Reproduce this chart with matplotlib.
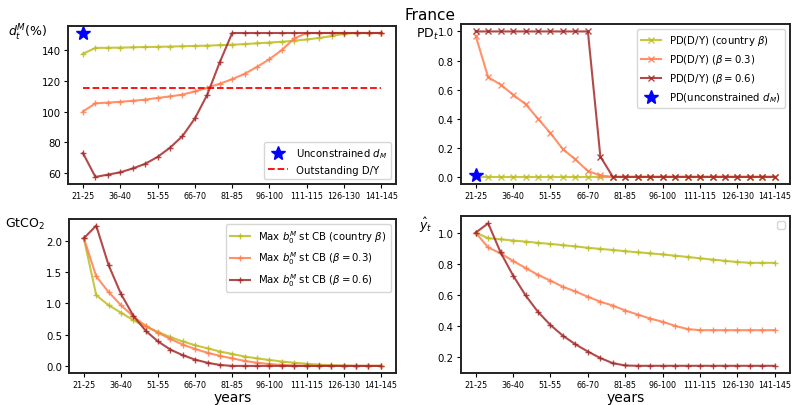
import matplotlib
matplotlib.use("Agg")
import matplotlib.pyplot as plt
import numpy as np

# periods (years since 2000)
periods = ['21-25', '26-30', '31-35', '36-40', '41-45', '46-50', '51-55', '56-60',
           '61-65', '66-70', '71-75', '76-80', '81-85', '86-90', '91-95', '96-100',
           '101-105', '106-110', '111-115', '116-120', '121-125', '126-130',
           '131-135', '136-140', '141-145']

# debt ceiling d_t^M (%)
dm_country = [137.5, 141.3, 141.4, 141.5, 141.7, 141.9, 142.0, 142.2, 142.4, 142.6,
              142.8, 143.1, 143.4, 143.8, 144.3, 144.8, 145.3, 146.0, 146.8, 147.8,
              149.0, 150.5, 151.0, 151.0, 151.0]
dm_b03 = [100.0, 105.3, 105.8, 106.3, 107.0, 107.7, 108.8, 109.8, 111.0, 113.0,
          115.5, 118.0, 121.0, 124.5, 129.0, 134.0, 140.0, 147.5, 151.0, 151.0,
          151.0, 151.0, 151.0, 151.0, 151.0]
dm_b06 = [73.0, 57.5, 59.0, 60.5, 63.0, 66.0, 70.5, 76.5, 84.0, 95.5,
          111.0, 132.0, 151.0, 151.0, 151.0, 151.0, 151.0, 151.0, 151.0, 151.0,
          151.0, 151.0, 151.0, 151.0, 151.0]
dm_unconstrained = 151.0
outstanding_dy = 115.5

# default probability
pd_country = [0.0] * 25
pd_b03 = [0.97, 0.685, 0.635, 0.565, 0.5, 0.4, 0.3, 0.19, 0.12, 0.04,
          0.01, 0.0, 0.0, 0.0, 0.0, 0.0, 0.0, 0.0, 0.0, 0.0,
          0.0, 0.0, 0.0, 0.0, 0.0]
pd_b06 = [1.0, 1.0, 1.0, 1.0, 1.0, 1.0, 1.0, 1.0, 1.0, 1.0,
          0.14, 0.0, 0.0, 0.0, 0.0, 0.0, 0.0, 0.0, 0.0, 0.0,
          0.0, 0.0, 0.0, 0.0, 0.0]
pd_unconstrained = 0.01

# max green bonds (GtCO2)
b_country = [2.04, 1.13, 0.97, 0.85, 0.73, 0.63, 0.54, 0.46, 0.39, 0.33,
             0.28, 0.23, 0.19, 0.15, 0.12, 0.095, 0.07, 0.05, 0.035, 0.02,
             0.01, 0.005, 0.0, 0.0, 0.0]
b_b03 = [2.04, 1.43, 1.18, 0.97, 0.79, 0.64, 0.53, 0.43, 0.34, 0.27,
         0.21, 0.16, 0.12, 0.08, 0.05, 0.03, 0.015, 0.005, 0.0, 0.0,
         0.0, 0.0, 0.0, 0.0, 0.0]
b_b06 = [2.04, 2.24, 1.61, 1.15, 0.80, 0.56, 0.39, 0.26, 0.17, 0.10,
         0.05, 0.015, 0.0, 0.0, 0.0, 0.0, 0.0, 0.0, 0.0, 0.0,
         0.0, 0.0, 0.0, 0.0, 0.0]

# output y_hat
y_country = [1.0, 0.964, 0.957, 0.949, 0.942, 0.934, 0.927, 0.919, 0.911, 0.902,
             0.895, 0.888, 0.880, 0.873, 0.866, 0.859, 0.851, 0.843, 0.834, 0.826,
             0.818, 0.810, 0.805, 0.805, 0.805]
y_b03 = [1.0, 0.904, 0.866, 0.817, 0.772, 0.727, 0.69, 0.65, 0.62, 0.586,
         0.554, 0.529, 0.497, 0.471, 0.445, 0.424, 0.398, 0.377, 0.37, 0.37,
         0.37, 0.37, 0.37, 0.37, 0.37]
y_b06 = [1.0, 1.06, 0.872, 0.723, 0.595, 0.488, 0.403, 0.334, 0.279, 0.232,
         0.19, 0.157, 0.142, 0.14, 0.14, 0.14, 0.14, 0.14, 0.14, 0.14,
         0.14, 0.14, 0.14, 0.14, 0.14]

c1, c2, c3 = 'tab:olive', 'coral', 'brown'
x = np.arange(len(periods))

fig = plt.figure(figsize=(7.93, 4.06), dpi=100)
ax1 = fig.add_axes([0.0858, 0.544, 0.414, 0.390])
ax2 = fig.add_axes([0.581, 0.544, 0.415, 0.394])
ax3 = fig.add_axes([0.087, 0.079, 0.412, 0.380])
ax4 = fig.add_axes([0.581, 0.079, 0.415, 0.386])

kw = dict(lw=1.5, alpha=0.85, ms=5, mew=1)
lfs = 7.3

# top left
ax1.plot(x, dm_country, color=c1, marker='+', **kw)
ax1.plot(x, dm_b03, color=c2, marker='+', **kw)
ax1.plot(x, dm_b06, color=c3, marker='+', **kw)
ax1.plot([0], [dm_unconstrained], '*', color='blue', ms=10, label='Unconstrained $d_M$')
ax1.plot([x[0], x[-1]], [outstanding_dy] * 2, '--', color='red', lw=1.3,
         label='Outstanding D/Y')
ax1.set_yticks([60, 80, 100, 120, 140])
ax1.legend(loc='lower right', fontsize=lfs)
ax1.set_ylabel('$d_t^M$(%)', rotation=0, fontsize=9, ha='right', va='center')
ax1.yaxis.set_label_coords(-0.064, 0.962)

# top right
ax2.plot(x, pd_country, color=c1, marker='x', label=r'PD(D/Y) (country $\beta$)', **kw)
ax2.plot(x, pd_b03, color=c2, marker='x', label=r'PD(D/Y) ($\beta=0.3$)', **kw)
ax2.plot(x, pd_b06, color=c3, marker='x', label=r'PD(D/Y) ($\beta=0.6$)', **kw)
ax2.plot([0], [pd_unconstrained], '*', color='blue', ms=10,
         label='PD(unconstrained $d_M$)')
ax2.legend(loc='upper right', fontsize=lfs)
ax2.set_ylabel('PD$_t$', rotation=0, fontsize=9, ha='right', va='center')
ax2.yaxis.set_label_coords(-0.067, 0.944)

# bottom left
ax3.plot(x, b_country, color=c1, marker='+', label=r'Max $b_0^M$ st CB (country $\beta$)', **kw)
ax3.plot(x, b_b03, color=c2, marker='+', label=r'Max $b_0^M$ st CB ($\beta=0.3$)', **kw)
ax3.plot(x, b_b06, color=c3, marker='+', label=r'Max $b_0^M$ st CB ($\beta=0.6$)', **kw)
ax3.set_yticks([0.0, 0.5, 1.0, 1.5, 2.0])
ax3.legend(loc='upper right', fontsize=lfs)
ax3.set_ylabel('GtCO$_2$', rotation=0, fontsize=9, ha='right', va='center')
ax3.yaxis.set_label_coords(-0.073, 0.968)
ax3.set_xlabel('years', fontsize=10, labelpad=1)

# bottom right
ax4.plot(x, y_country, color=c1, marker='+', **kw)
ax4.plot(x, y_b03, color=c2, marker='+', **kw)
ax4.plot(x, y_b06, color=c3, marker='+', **kw)
ax4.set_yticks([0.2, 0.4, 0.6, 0.8, 1.0])
ax4.legend(handles=[], loc='upper right', fontsize=lfs)
ax4.set_ylabel(r'$\hat{y}_t$', rotation=0, fontsize=9, ha='right', va='center')
ax4.yaxis.set_label_coords(-0.085, 0.95)
ax4.set_xlabel('years', fontsize=10, labelpad=1)

for ax in (ax1, ax2, ax3, ax4):
    ax.set_xticks(x[::3])
    ax.set_xticklabels(periods[::3], fontsize=5.8)
    ax.tick_params(axis='y', labelsize=7.3, length=3, pad=2)
    ax.tick_params(axis='x', length=3, pad=2)
    for s in ax.spines.values():
        s.set_linewidth(1.4)
        s.set_color('#222222')

fig.text(0.542, 0.963, 'France', fontsize=11, ha='center', va='center')

fig.savefig('out.png', dpi=100)
